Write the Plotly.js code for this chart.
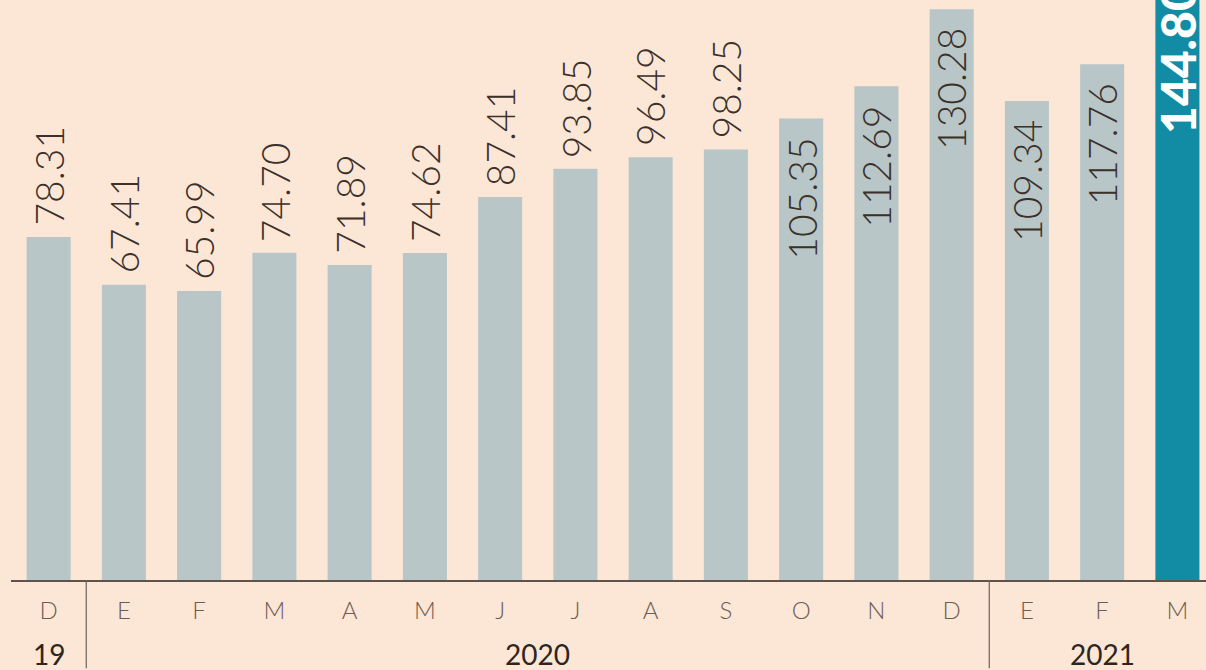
<!DOCTYPE html>
<html><head><meta charset="utf-8">
<script src="https://cdn.plot.ly/plotly-3.0.1.min.js"></script>
<style>html,body{margin:0;padding:0;background:#fce6d6;}#chart{width:1206px;height:670px;}</style>
</head><body><div id="chart"></div>
<script>
const months = ['D','E','F','M','A','M','J','J','A','S','O','N','D','E','F','M'];
const values = [78.31,67.41,65.99,74.70,71.89,74.62,87.41,93.85,96.49,98.25,105.35,112.69,130.28,109.34,117.76,144.8];
const years = ['19','2020','2021'];
const yearPos = [0, 6.5, 14];
const separators = [0.5, 12.5];

const yMax = 132.4;
const idx = months.map((m,i)=>i);
const colors = values.map((v,i)=> i===values.length-1 ? '#128ca4' : '#b8c6c7');
const FONT = 'Lato, "Open Sans", sans-serif';

const annotations = [];
values.forEach((v,i)=>{
  const last = i===values.length-1;
  let a = {x:i, xref:'x', yref:'y', text:v.toFixed(2), textangle:-90, showarrow:false, borderpad:0,
    font:{family:FONT, size:39, color:'#3b302a', weight:300}};
  if (last) {
    a.y = Math.min(v, yMax); a.yanchor='top'; a.yshift=18;
    a.font = {family:FONT, size:48, color:'#ffffff', weight:900};
  } else if (v > 100) {
    a.y = v; a.yanchor='top'; a.yshift=-18;
  } else {
    a.y = v; a.yanchor='bottom'; a.yshift=10;
  }
  annotations.push(a);
});
years.forEach((y,i)=>{
  annotations.push({x:yearPos[i], y:-0.128, xref:'x', yref:'paper', text:y, showarrow:false,
    yanchor:'middle', font:{family:FONT, size:28, color:'#2e2520'}});
});
const shapes = separators.map(s=>({type:'line', xref:'x', yref:'paper', x0:s, x1:s, y0:0, y1:-0.152,
  line:{color:'#6e625b', width:1.2}}));

Plotly.newPlot('chart', [{
  type:'bar', x:idx, y:values, marker:{color:colors}, width:0.585,
  hoverinfo:'none'
}], {
  width:1206, height:670,
  margin:{l:11, r:0, t:0, b:90},
  paper_bgcolor:'#fce6d6', plot_bgcolor:'#fce6d6',
  showlegend:false,
  xaxis:{range:[-0.5,15.38], tickvals:idx, ticktext:months, showgrid:false, zeroline:false,
    showline:true, linecolor:'#5f534c', linewidth:1.5, ticks:'', ticklabelstandoff:9,
    tickfont:{family:FONT, size:24, color:'#6b5d55', weight:300}},
  yaxis:{range:[0,yMax], visible:false, showgrid:false, zeroline:false},
  annotations:annotations, shapes:shapes
}, {staticPlot:true});
</script></body></html>
